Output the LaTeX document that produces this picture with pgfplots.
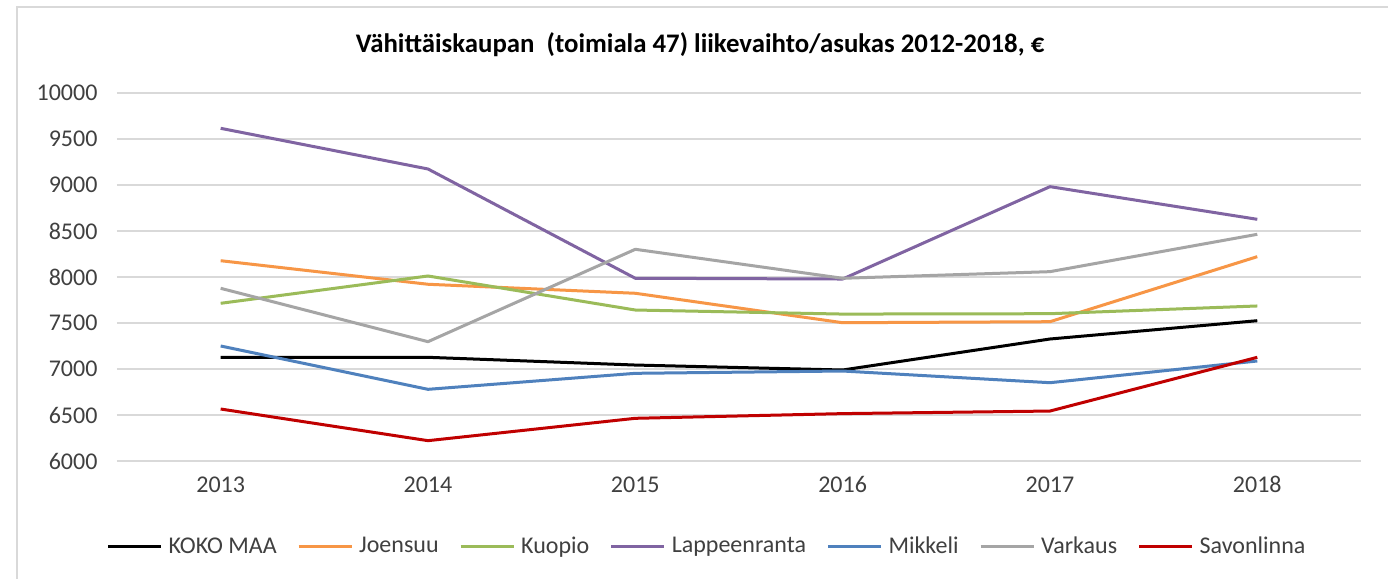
\documentclass[border=0pt]{standalone}
\usepackage{pgfplots}
\pgfplotsset{compat=1.18}
\usepackage{fontspec}
\setmainfont{Carlito}
\definecolor{cjoe}{HTML}{F79646}
\definecolor{ckuo}{HTML}{9BBB59}
\definecolor{clap}{HTML}{8064A2}
\definecolor{cmik}{HTML}{4F81BD}
\definecolor{cvar}{HTML}{A5A5A5}
\definecolor{csav}{HTML}{C00000}
\definecolor{cgrid}{HTML}{D9D9D9}
\definecolor{ctext}{HTML}{404040}
\begin{document}
\begin{tikzpicture}[x=1bp,y=1bp]
\useasboundingbox (-117,-118) rectangle (1271,461);
\fill[white] (-117,-118) rectangle (1271,461);
\draw[cgrid,line width=2bp] (-100,-118) -- (-100,454) -- (1271,454);
\node[font=\fontsize{26.8bp}{30bp}\selectfont\bfseries] at (583,416) {Vähittäiskaupan\ \ (toimiala 47) liikevaihto/asukas 2012-2018, €};
\begin{axis}[
  at={(0,0)}, anchor=south west,
  width=1244bp, height=368bp, scale only axis,
  xmin=-0.5, xmax=5.5, ymin=6000, ymax=10000,
  xtick={0,1,2,3,4,5},
  xticklabels={2013,2014,2015,2016,2017,2018},
  ytick={6000,6500,7000,7500,8000,8500,9000,9500,10000},
  scaled y ticks=false,
  ymajorgrids, grid style={cgrid,line width=1.5bp},
  axis line style={draw=none},
  major tick length=0pt,
  tick label style={font=\fontsize{24bp}{28bp}\selectfont, text=ctext},
  /pgf/number format/assume math mode=true,
  /pgf/number format/1000 sep={},
  yticklabel style={xshift=-16bp},
  xticklabel style={yshift=-12bp},
  legend style={at={(0.5,-85bp)}, anchor=center, xshift=-32bp, draw=none, fill=none,
    font=\fontsize{24bp}{28bp}\selectfont, text=ctext, legend columns=-1,
    /tikz/every odd column/.append style={column sep=4bp},
    /tikz/every even column/.append style={column sep=18.5bp},
    legend cell align=left, inner sep=0pt},
  legend image code/.code={\draw[#1,line width=3bp] (0bp,0bp) -- (53bp,0bp);},
  every axis plot/.append style={line width=3bp, line join=round, mark=none},
]
\addplot[black] coordinates {(0,7127) (1,7127) (2,7043) (3,6989) (4,7326) (5,7525)};
\addlegendentry{KOKO MAA}
\addplot[cjoe] coordinates {(0,8177) (1,7921) (2,7823) (3,7503) (4,7514) (5,8221)};
\addlegendentry{Joensuu}
\addplot[ckuo] coordinates {(0,7714) (1,8011) (2,7641) (3,7597) (4,7601) (5,7685)};
\addlegendentry{Kuopio}
\addplot[clap] coordinates {(0,9616) (1,9174) (2,7986) (3,7978) (4,8982) (5,8627)};
\addlegendentry{Lappeenranta}
\addplot[cmik] coordinates {(0,7250) (1,6779) (2,6953) (3,6978) (4,6851) (5,7087)};
\addlegendentry{Mikkeli}
\addplot[cvar] coordinates {(0,7877) (1,7297) (2,8301) (3,7986) (4,8058) (5,8464)};
\addlegendentry{Varkaus}
\addplot[csav] coordinates {(0,6565) (1,6221) (2,6464) (3,6515) (4,6543) (5,7127)};
\addlegendentry{Savonlinna}
\end{axis}
\end{tikzpicture}
\end{document}
